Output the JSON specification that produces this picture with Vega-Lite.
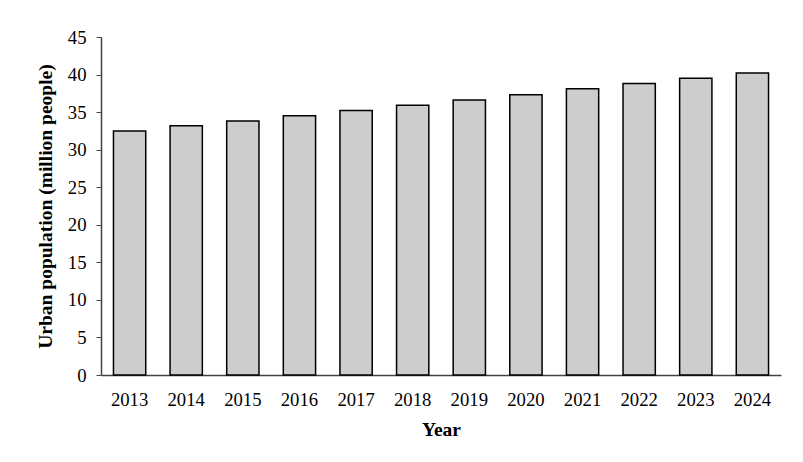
{
  "$schema": "https://vega.github.io/schema/vega-lite/v6.json",
  "width": 680,
  "height": 338,
  "autosize": {"type": "none"},
  "padding": {"left": 101, "top": 37, "right": 22, "bottom": 87},
  "background": "white",
  "config": {
    "view": {"stroke": null},
    "font": "Liberation Serif",
    "axis": {"grid": false, "domainColor": "#444", "tickColor": "#444", "labelColor": "black", "titleColor": "black", "labelFont": "Liberation Serif", "titleFont": "Liberation Serif", "labelFontSize": 18.7, "titleFontSize": 19.5, "titleFontWeight": "bold"}
  },
  "data": {"values": [
    {"year": "2013", "pop": 32.5},
    {"year": "2014", "pop": 33.2},
    {"year": "2015", "pop": 33.8},
    {"year": "2016", "pop": 34.5},
    {"year": "2017", "pop": 35.2},
    {"year": "2018", "pop": 35.9},
    {"year": "2019", "pop": 36.6},
    {"year": "2020", "pop": 37.3},
    {"year": "2021", "pop": 38.1},
    {"year": "2022", "pop": 38.8},
    {"year": "2023", "pop": 39.5},
    {"year": "2024", "pop": 40.2}
  ]},
  "mark": {"type": "bar", "fill": "#cdcdcd", "stroke": "black", "strokeWidth": 1.5},
  "encoding": {
    "x": {"field": "year", "type": "ordinal", "title": "Year",
      "scale": {"paddingInner": 0.43, "paddingOuter": 0.22},
      "axis": {"labelAngle": 0, "ticks": false, "labelPadding": 15, "titlePadding": 12, "domainWidth": 1.5}},
    "y": {"field": "pop", "type": "quantitative", "title": "Urban population (million people)",
      "scale": {"domain": [0, 45]},
      "axis": {"values": [0,5,10,15,20,25,30,35,40,45], "tickSize": 5, "labelPadding": 10, "titlePadding": 12, "domainWidth": 1.5}}
  }
}
